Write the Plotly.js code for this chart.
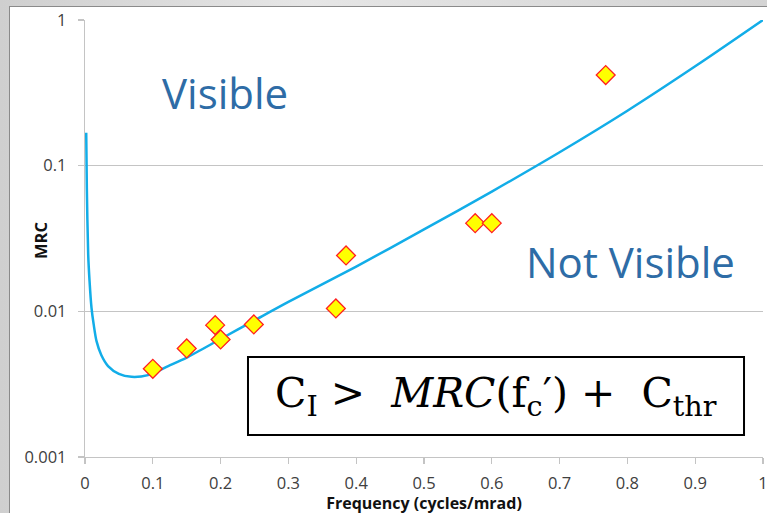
<!DOCTYPE html>
<html>
<head>
<meta charset="utf-8">
<script src="https://cdn.plot.ly/plotly-3.0.1.min.js"></script>
<style>
  html, body { margin: 0; padding: 0; width: 767px; height: 513px; overflow: hidden;
    background: linear-gradient(90deg, #cfcfcf 0%, #e6e6e6 40%, #d4d4d4 100%); }
  #chart { position: absolute; left: 9px; top: 6px; width: 758px; height: 507px;
    background: #ffffff; border-left: 1px solid #8a8a8a; border-top: 1px solid #8a8a8a; box-sizing: border-box; }
</style>
</head>
<body>
<div id="chart"></div>
<script>
// Threshold curve (MRC vs frequency)
const curveFreq = [0.0018, 0.0027, 0.0047, 0.0067, 0.0096, 0.0128, 0.017, 0.024, 0.034, 0.05, 0.0686, 0.093, 0.1227, 0.15, 0.20, 0.25, 0.30, 0.40, 0.50, 0.60, 0.70, 0.80, 0.90, 1.0];
const curveMRC  = [0.168, 0.0705, 0.0246, 0.0162, 0.01057, 0.00813, 0.00624, 0.00501, 0.00421, 0.00372, 0.00355, 0.00365, 0.00421, 0.00481, 0.00646, 0.00867, 0.01161, 0.0203, 0.0365, 0.0664, 0.1236, 0.2382, 0.4808, 1.0];

// Measured points
const ptFreq = [0.10, 0.15, 0.192, 0.20, 0.249, 0.370, 0.385, 0.5755, 0.600, 0.768];
const ptMRC  = [0.00403, 0.00556, 0.00804, 0.00641, 0.00813, 0.01047, 0.0242, 0.0403, 0.0403, 0.419];

// Axis ticks
const xTicks = [0, 0.1, 0.2, 0.3, 0.4, 0.5, 0.6, 0.7, 0.8, 0.9, 1];
const xTickText = ['0', '0.1', '0.2', '0.3', '0.4', '0.5', '0.6', '0.7', '0.8', '0.9', '1'];
const yTicks = [0.001, 0.01, 0.1, 1];
const yTickText = ['0.001', '0.01', '0.1', '1'];

const traces = [
  {
    x: curveFreq, y: curveMRC, type: 'scatter', mode: 'lines',
    line: { color: '#12ade8', width: 2.5, shape: 'spline', smoothing: 0.8 },
    hoverinfo: 'skip', showlegend: false
  },
  {
    x: ptFreq, y: ptMRC, type: 'scatter', mode: 'markers',
    marker: { symbol: 'diamond', size: 14.5, color: '#ffff00', line: { color: '#ff2020', width: 1.3 } },
    showlegend: false
  }
];

const tickFont = { family: 'Open Sans, sans-serif', size: 16.5, color: '#404040' };

const layout = {
  width: 758, height: 507,
  margin: { l: 75, r: 5, t: 13, b: 57, pad: 0 },
  paper_bgcolor: 'rgba(0,0,0,0)',
  plot_bgcolor: '#ffffff',
  showlegend: false,
  xaxis: {
    range: [0, 1], tickvals: xTicks, ticktext: xTickText,
    showgrid: false, zeroline: false,
    showline: true, linecolor: '#c4c4c4', linewidth: 1.2,
    ticks: 'outside', ticklen: 6, tickcolor: '#c4c4c4', tickwidth: 1.2,
    ticklabelstandoff: 5,
    tickfont: tickFont,
    title: { text: 'Frequency (cycles/mrad)', standoff: 0,
      font: { family: 'Open Sans, sans-serif', size: 16, color: '#111111', weight: 'bold' } }
  },
  yaxis: {
    type: 'log', range: [-3, 0], tickvals: yTicks, ticktext: yTickText,
    showgrid: true, gridcolor: '#c4c4c4', gridwidth: 1.2, zeroline: false,
    showline: true, linecolor: '#c4c4c4', linewidth: 1.2,
    ticks: 'outside', ticklen: 6, tickcolor: '#c4c4c4', tickwidth: 1.2,
    ticklabelstandoff: 8,
    tickfont: tickFont
  },
  shapes: [
    { type: 'rect', xref: 'paper', yref: 'paper', x0: 0.2404, x1: 0.972, y0: 0.0503, y1: 0.2288,
      line: { color: '#000000', width: 2 }, fillcolor: '#ffffff', layer: 'above' }
  ],
  annotations: [
    { text: '<b>MRC</b>', xref: 'paper', yref: 'paper', x: -0.0649, y: 0.4966, xanchor: 'center', yanchor: 'middle',
      textangle: -90, showarrow: false, font: { family: 'Open Sans, sans-serif', size: 16.5, color: '#111111' } },
    { text: 'Visible', xref: 'paper', yref: 'paper', x: 0.2065, y: 0.835, xanchor: 'center', yanchor: 'middle',
      showarrow: false, font: { family: 'Open Sans, sans-serif', size: 42, color: '#2e6ca6' } },
    { text: 'Not Visible', xref: 'paper', yref: 'paper', x: 0.804, y: 0.448, xanchor: 'center', yanchor: 'middle',
      showarrow: false, font: { family: 'Open Sans, sans-serif', size: 42, color: '#2e6ca6' } },
    { text: 'C<sub>I</sub> &gt;  <i>MRC</i>(f<sub>c</sub>′) +  C<sub>thr</sub>', xref: 'paper', yref: 'paper',
      x: 0.606, y: 0.14, xanchor: 'center', yanchor: 'middle', showarrow: false,
      font: { family: 'DejaVu Serif, serif', size: 41, color: '#000000' } }
  ]
};

Plotly.newPlot('chart', traces, layout, { staticPlot: true, displayModeBar: false });
</script>
</body>
</html>
